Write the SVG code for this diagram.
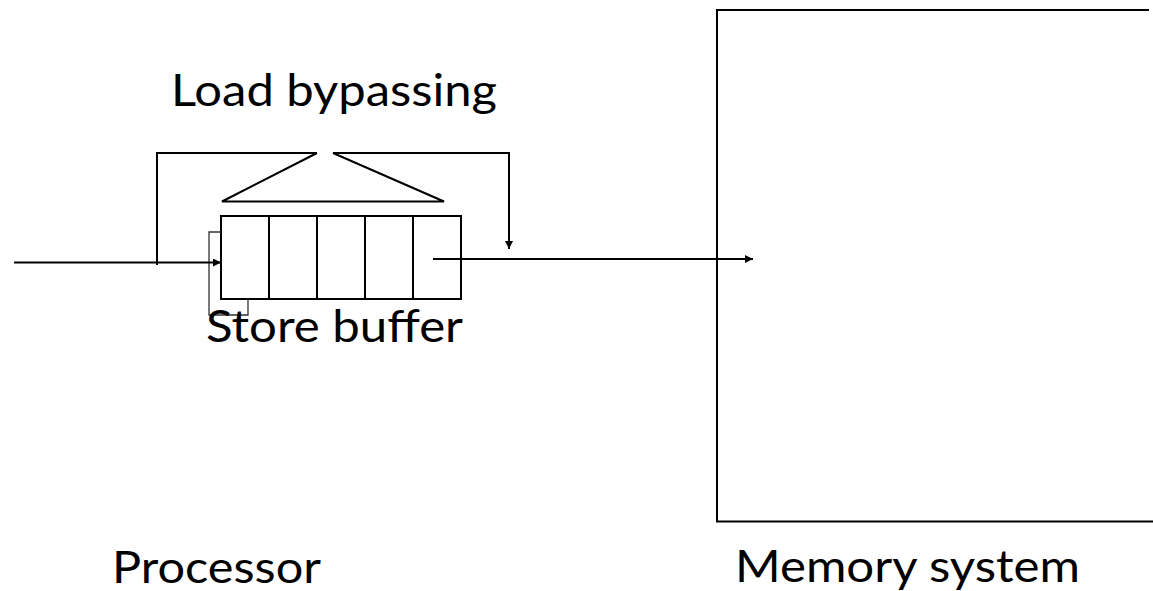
<svg xmlns="http://www.w3.org/2000/svg" width="1153" height="591" viewBox="0 0 1153 591">
<defs>
<style>
.ln{fill:none;stroke:#000;stroke-width:2}
.thin{fill:none;stroke:#333;stroke-width:1.3}
.lbl{font-family:Lato,"Open Sans","Liberation Sans",sans-serif;font-size:44px;fill:#000}
</style>
<marker id="ah" viewBox="0 0 10 10" refX="10" refY="5" markerWidth="8" markerHeight="8" markerUnits="userSpaceOnUse" orient="auto">
<path d="M0,0 L10,5 L0,10 z" fill="#000"/>
</marker>
</defs>
<rect width="1153" height="591" fill="#fff"/>
<g id="memory">
<path class="ln" d="M1149,10 H717 V521.5 H1153"/>
<text class="lbl" x="735" y="582" textLength="345" lengthAdjust="spacingAndGlyphs">Memory system</text>
</g>
<g id="store-buffer">
<rect class="ln" x="221" y="216" width="240" height="83"/>
<path class="ln" d="M269,216 V299 M317,216 V299 M365,216 V299 M413,216 V299"/>
<path class="thin" d="M221,232 H209 V315 H248 V299"/>
<text class="lbl" x="206" y="342" textLength="257" lengthAdjust="spacingAndGlyphs">Store buffer</text>
</g>
<g id="load-bypassing">
<path class="ln" d="M317,153 L222,201.5 H444 L333,153"/>
<text class="lbl" x="171" y="106" textLength="326" lengthAdjust="spacingAndGlyphs">Load bypassing</text>
</g>
<g id="processor">
<text class="lbl" x="112" y="583" textLength="209" lengthAdjust="spacingAndGlyphs">Processor</text>
</g>
<g id="connectors">
<path class="ln" d="M14,262.5 H221" marker-end="url(#ah)"/>
<path class="ln" d="M157,265 V153 H317"/>
<path class="ln" d="M333,153 H509 V249" marker-end="url(#ah)"/>
<path class="ln" d="M433,259 H753" marker-end="url(#ah)"/>
</g>
</svg>
